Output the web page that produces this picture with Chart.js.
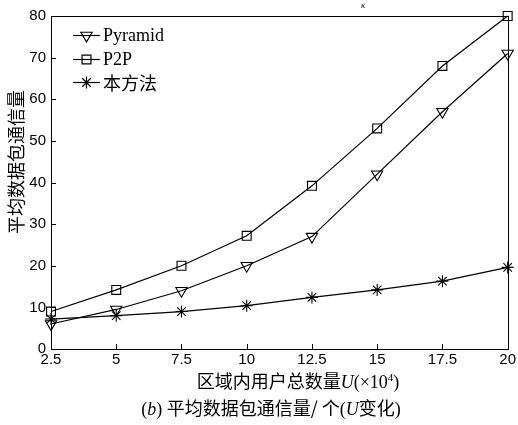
<!DOCTYPE html>
<html>
<head>
<meta charset="utf-8">
<script src="https://cdn.jsdelivr.net/npm/chart.js@4.4.0/dist/chart.umd.min.js"></script>
<style>
html, body { margin: 0; padding: 0; background: #fff; }
canvas { display: block; }
</style>
</head>
<body>
<canvas id="myChart" width="518" height="425"></canvas>
<script>
// U (x10^4)
const users = [2.5, 5, 7.5, 10, 12.5, 15, 17.5, 20];
const pyramid = [6, 9.5, 14, 20, 27, 42, 57, 71];
const p2p = [9, 14.2, 20, 27.2, 39.2, 53, 68, 80];
const ours = [7.2, 8, 9, 10.4, 12.4, 14.2, 16.3, 19.6];
const names = ['Pyramid', 'P2P', '本方法'];
const yTitle = '平均数据包通信量';

const cjk = '"Noto Sans CJK SC", sans-serif';
const serif = '"Liberation Serif", "Times New Roman", serif';
const sans = '"Liberation Sans", Arial, sans-serif';

function mk(label, vals, style, rot, r) {
  return {
    label: label,
    data: users.map((u, i) => ({x: u, y: vals[i]})),
    borderColor: '#000',
    backgroundColor: 'rgba(0,0,0,0)',
    borderWidth: 1.2,
    pointStyle: style,
    pointRotation: rot,
    pointRadius: r,
    pointBorderWidth: 1.1,
    pointBorderColor: '#000',
    pointBackgroundColor: 'rgba(0,0,0,0)',
    tension: 0,
    clip: false
  };
}

const datasets = [
  mk(names[0], pyramid, 'triangle', 180, 6.5),
  mk(names[1], p2p, 'rect', 0, 6.3),
  mk(names[2], ours, 'star', 0, 6)
];

// box, inward ticks, legend, titles
const extras = {
  id: 'extras',
  afterDraw(chart) {
    const c = chart.ctx, a = chart.chartArea;
    const xs = chart.scales.x, ys = chart.scales.y;
    c.save();
    c.strokeStyle = '#000';
    c.lineWidth = 1;
    c.strokeRect(Math.round(a.left) + 0.5, Math.round(a.top) + 0.5,
      Math.round(a.right - a.left), Math.round(a.bottom - a.top));
    c.beginPath();
    xs.ticks.forEach(t => {
      const px = Math.round(xs.getPixelForValue(t.value)) + 0.5;
      c.moveTo(px, a.bottom); c.lineTo(px, a.bottom - 5);
    });
    ys.ticks.forEach(t => {
      const py = Math.round(ys.getPixelForValue(t.value)) + 0.5;
      c.moveTo(a.left, py); c.lineTo(a.left + 5, py);
    });
    c.stroke();

    // legend
    const rows = [35, 59, 82];
    datasets.forEach((d, i) => {
      const y = rows[i] + 0.5;
      c.lineWidth = 1.2;
      c.beginPath();
      c.moveTo(73, y); c.lineTo(100, y);
      c.stroke();
      c.fillStyle = 'rgba(0,0,0,0)';
      Chart.helpers.drawPoint(c, {
        pointStyle: d.pointStyle, rotation: d.pointRotation,
        radius: d.pointRadius, borderWidth: 1
      }, 86.5, y);
      c.fillStyle = '#000';
      c.textBaseline = 'middle';
      c.textAlign = 'left';
      c.font = i < 2 ? '18px ' + serif : '18px ' + cjk;
      c.fillText(d.label, 103, rows[i] + 1);
    });

    // y title
    c.save();
    c.translate(16, 162);
    c.rotate(-Math.PI / 2);
    c.font = '18px ' + cjk;
    c.textAlign = 'center';
    c.textBaseline = 'middle';
    c.fillText(yTitle, 0, 0);
    c.restore();

    // x title and caption
    c.textBaseline = 'alphabetic';
    c.textAlign = 'left';
    function runs(parts, cx, base) {
      let w = 0;
      parts.forEach(p => { c.font = p[1]; w += c.measureText(p[0]).width; });
      let x = cx - w / 2;
      parts.forEach(p => {
        c.font = p[1];
        c.fillText(p[0], x, base + (p[2] || 0));
        x += c.measureText(p[0]).width;
      });
    }
    runs([
      ['区域内用户总数量', '18px ' + cjk],
      ['U', 'italic 18px ' + serif],
      ['(×10', '18px ' + serif],
      ['4', '11px ' + serif, -7],
      [')', '18px ' + serif]
    ], 298, 388);
    runs([
      ['(', '18px ' + serif],
      ['b', 'italic 18px ' + serif],
      [') ', '18px ' + serif],
      ['平均数据包通信量/ 个', '18px ' + cjk],
      ['(', '18px ' + serif],
      ['U', 'italic 18px ' + serif],
      ['变化', '18px ' + cjk],
      [')', '18px ' + serif]
    ], 271, 415);

    c.font = 'italic 9px ' + serif;
    c.fillText('κ', 361, 8);
    c.restore();
  }
};

const cfg = {
  type: 'line',
  data: { datasets: datasets },
  options: {
    responsive: false,
    animation: false,
    maintainAspectRatio: false,
    layout: { padding: { top: 16, right: 6, left: 0, bottom: 0 } },
    plugins: { legend: { display: false }, tooltip: { enabled: false } },
    scales: {
      x: {
        type: 'linear',
        min: 2.5,
        max: 20,
        grid: { display: false, drawTicks: false },
        border: { display: false },
        ticks: {
          stepSize: 2.5,
          padding: 2,
          color: '#000',
          font: { family: sans, size: 15 },
          maxRotation: 0,
          callback: v => String(v)
        },
        afterFit: s => { s.height = 76; }
      },
      y: {
        min: 0,
        max: 80,
        grid: { display: false, drawTicks: false },
        border: { display: false },
        ticks: {
          stepSize: 10,
          padding: 5,
          color: '#000',
          font: { family: sans, size: 15 }
        },
        afterFit: s => { s.width = 51; }
      }
    }
  },
  plugins: [extras]
};

new Chart(document.getElementById('myChart'), cfg);
</script>
</body>
</html>
